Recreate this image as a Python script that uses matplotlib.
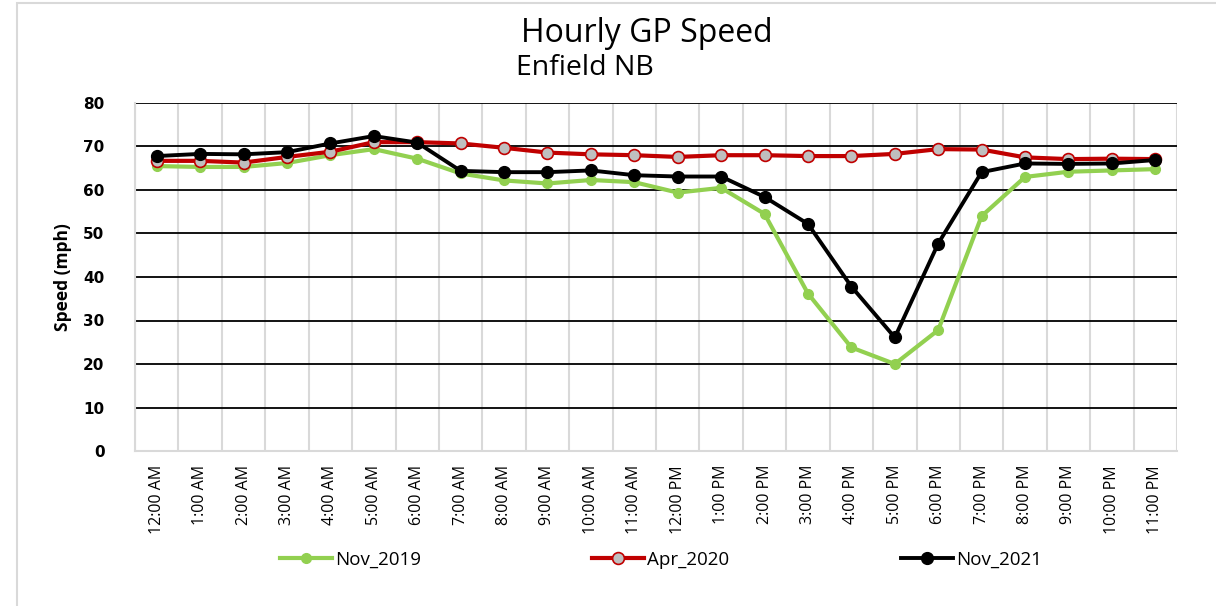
import numpy as np
import matplotlib.pyplot as plt
from matplotlib.patches import Rectangle

hours = ['12:00 AM', '1:00 AM', '2:00 AM', '3:00 AM', '4:00 AM', '5:00 AM',
         '6:00 AM', '7:00 AM', '8:00 AM', '9:00 AM', '10:00 AM', '11:00 AM',
         '12:00 PM', '1:00 PM', '2:00 PM', '3:00 PM', '4:00 PM', '5:00 PM',
         '6:00 PM', '7:00 PM', '8:00 PM', '9:00 PM', '10:00 PM', '11:00 PM']

nov_2019 = [65.5, 65.3, 65.3, 66.2, 68.0, 69.4, 67.2, 63.8, 62.2, 61.5, 62.3, 61.8,
            59.4, 60.5, 54.5, 36.2, 23.8, 20.0, 27.8, 54.0, 63.0, 64.2, 64.5, 64.8]
apr_2020 = [66.7, 66.7, 66.3, 67.6, 68.8, 71.0, 71.0, 70.7, 69.7, 68.6, 68.2, 68.0,
            67.6, 68.0, 68.0, 67.8, 67.8, 68.3, 69.4, 69.3, 67.5, 67.1, 67.2, 67.1]
nov_2021 = [67.8, 68.3, 68.2, 68.7, 70.7, 72.4, 70.9, 64.4, 64.1, 64.1, 64.5, 63.4,
            63.1, 63.1, 58.4, 52.2, 37.8, 26.1, 47.7, 64.1, 66.1, 66.0, 66.1, 66.9]

narrow = ['Liberation Sans Narrow', 'Open Sans', 'DejaVu Sans']

fig = plt.figure(figsize=(12.16, 6.06), dpi=100)
fig.patches.append(Rectangle((17 / 1216, -0.1), 1.2, 1.1 - 3 / 606,
                             transform=fig.transFigure, fill=False,
                             edgecolor='#D9D9D9', lw=1.5))

ax = fig.add_axes([135 / 1216, 1 - 451 / 606, 1042 / 1216, 348 / 606])
x = np.arange(len(hours))

l1, = ax.plot(x, nov_2019, color='#92D050', lw=3.0, marker='o', ms=7,
              mfc='#92D050', mec='#92D050', label='Nov_2019', zorder=3)
l2, = ax.plot(x, apr_2020, color='#C00000', lw=3.0, marker='o', ms=8.5,
              mfc='#BFBFBF', mec='#C00000', mew=1.2, label='Apr_2020', zorder=4)
l3, = ax.plot(x, nov_2021, color='black', lw=2.8, marker='o', ms=8.5,
              mfc='black', mec='black', label='Nov_2021', zorder=5)

ax.set_xlim(-0.5, 23.5)
ax.set_ylim(0, 80)
ax.set_yticks(range(0, 81, 10))
ax.set_xticks(x)
ax.set_xticklabels(hours, rotation=90, family=narrow, fontsize=11.5)
ax.set_xticks(np.arange(-0.5, 24), minor=True)
ax.tick_params(axis='x', which='both', length=0, pad=10)
ax.tick_params(axis='y', length=0, pad=22, labelsize=11)
for t in ax.get_yticklabels():
    t.set_fontweight('bold')

ax.grid(axis='y', which='major', color='black', lw=1.3)
ax.grid(axis='x', which='minor', color='#D9D9D9', lw=1.5)
ax.set_axisbelow(True)
for s in ['top', 'right']:
    ax.spines[s].set_visible(False)
for s in ['left', 'bottom']:
    ax.spines[s].set_color('#D9D9D9')
    ax.spines[s].set_linewidth(1.5)

ax.set_ylabel('Speed (mph)', family=narrow, fontweight='bold', fontsize=12.5, labelpad=8)

fig.text(647 / 1216, 1 - 33 / 606, 'Hourly GP Speed', ha='center', va='center',
         fontsize=23, family='Open Sans')
fig.text(516 / 1216, 1 - 68 / 606, 'Enfield NB', ha='left', va='center',
         fontsize=20.5, family='Open Sans')

# one legend per series so each entry sits at its own spot
for line, xpos in [(l1, 280), (l2, 592), (l3, 901)]:
    fig.legend(handles=[line], loc='center left',
               bbox_to_anchor=(xpos / 1216, 1 - 560 / 606),
               frameon=False, prop={'family': narrow, 'size': 13.5},
               handlelength=2.75, handletextpad=0.2, borderpad=0, borderaxespad=0)

fig.savefig('out.png', dpi=100)
